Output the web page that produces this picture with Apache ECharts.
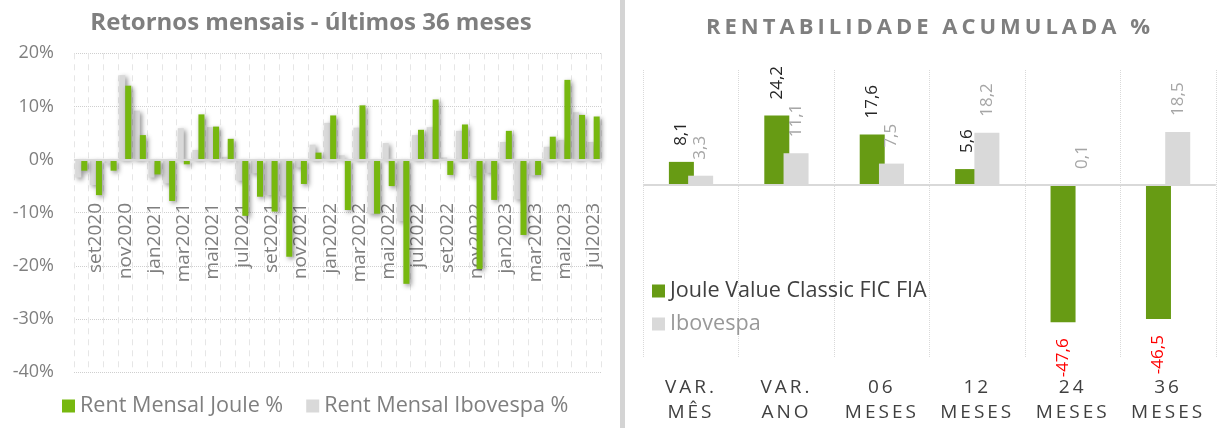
<!DOCTYPE html>
<html>
<head>
<meta charset="utf-8">
<script src="https://cdn.jsdelivr.net/npm/echarts@6/dist/echarts.min.js"></script>
<style>
html,body{margin:0;padding:0;background:#fff;}
#c{width:1225px;height:428px;}
</style>
</head>
<body>
<div id="c"></div>
<script>
// ---- Data ----
const months = ['ago2020','set2020','out2020','nov2020','dez2020','jan2021','fev2021','mar2021','abr2021','mai2021','jun2021','jul2021',
  'ago2021','set2021','out2021','nov2021','dez2021','jan2022','fev2022','mar2022','abr2022','mai2022','jun2022','jul2022',
  'ago2022','set2022','out2022','nov2022','dez2022','jan2023','fev2023','mar2023','abr2023','mai2023','jun2023','jul2023'];
const rentJoule = [-2.1,-6.7,-2.1,13.9,4.6,-2.8,-7.8,-0.9,8.5,6.2,3.9,-10.6,
  -7.0,-9.8,-18.3,-4.6,1.3,8.3,-9.5,10.2,-10.2,-5.0,-23.4,5.6,
  11.3,-2.9,6.6,-20.6,-7.6,5.4,-14.2,-2.9,4.3,15.0,8.4,8.1];
const rentIbov = [-3.4,-4.8,-0.7,15.9,9.2,-3.4,-4.5,5.9,1.8,6.1,0.5,-4.0,
  -2.6,-6.7,-6.8,-1.5,2.8,6.9,0.8,6.0,-10.2,3.1,-11.6,4.6,
  6.1,0.4,5.4,-3.1,-2.5,3.3,-7.5,-3.0,2.4,3.7,8.9,3.3];

const periods = ['VAR.\nMÊS','VAR.\nANO','06\nMESES','12\nMESES','24\nMESES','36\nMESES'];
const accJoule = [8.1,24.2,17.6,5.6,-47.6,-46.5];
const accIbov = [3.3,11.1,7.5,18.2,0.1,18.5];

const leftTitle = 'Retornos mensais - últimos 36 meses';
const rightTitle = 'RENTABILIDADE ACUMULADA %';

// letter spacing for spaced texts (right panel)
const SPACED = new Map([[rightTitle,'4px'],['VAR.','3px'],['MÊS','3px'],['ANO','3px'],['06','3px'],['12','3px'],['24','3px'],['36','3px'],['MESES','3px']]);
(function(){
  const proto = CanvasRenderingContext2D.prototype;
  const of = proto.fillText;
  proto.fillText = function(t,x,y,mw){
    if ('letterSpacing' in this) this.letterSpacing = SPACED.get(t) || '0px';
    return mw === undefined ? of.call(this,t,x,y) : of.call(this,t,x,y,mw);
  };
})();

const FONT = 'Open Sans';
const fmt = v => String(v).replace('.', ',');

const shadow = {shadowBlur:5, shadowColor:'rgba(0,0,0,0.45)', shadowOffsetX:2, shadowOffsetY:2};

const joulePts = accJoule.map(v => v >= 0 ? {value:v} : {
  value:v, label:{position:'bottom', align:'right', color:'#ff0000'}
});

const zeroLine = (w) => ({silent:true, symbol:'none', label:{show:false}, data:[{yAxis:0}],
  lineStyle:{color:'#d9d9d9', width:w, type:'solid'}});

const chart = echarts.init(document.getElementById('c'), null, {renderer:'canvas'});
chart.setOption({
  animation:false,
  textStyle:{fontFamily:FONT},
  title:[
    {text:leftTitle, left:311, top:23, padding:0, textAlign:'center', textVerticalAlign:'middle',
     textStyle:{fontFamily:FONT, fontSize:24, fontWeight:'bold', color:'#7f7f7f'}},
    {text:rightTitle, left:930, top:28, padding:0, textAlign:'center', textVerticalAlign:'middle',
     textStyle:{fontFamily:FONT, fontSize:22, fontWeight:'bold', color:'#7f7f7f'}}
  ],
  legend:[
    {left:62, top:395, padding:0, itemWidth:13, itemHeight:13, itemGap:23, icon:'rect',
     data:['Rent Mensal Joule %','Rent Mensal Ibovespa %'],
     textStyle:{fontFamily:FONT, fontSize:21.6, color:'#7f7f7f'}},
    {orient:'vertical', left:652, top:280, padding:0, itemWidth:13, itemHeight:13, itemGap:11, icon:'rect',
     data:[{name:'Joule Value Classic FIC FIA', textStyle:{color:'#404040'}},{name:'Ibovespa', textStyle:{color:'#999999'}}],
     textStyle:{fontFamily:FONT, fontSize:21.6}}
  ],
  graphic:[{type:'rect', shape:{x:620, y:0, width:5, height:428}, style:{fill:'#d4d4d4'}, silent:true}],
  grid:[
    {left:74, top:53.3, width:527, height:318.7, outerBoundsMode:'none', containLabel:false},
    {left:643.3, top:70, width:572.5, height:288, outerBoundsMode:'none', containLabel:false}
  ],
  xAxis:[
    {type:'category', gridIndex:0, data:months,
     axisLine:{show:false, onZero:false},
     axisTick:{show:false},
     axisLabel:{interval:(i)=> i % 2 === 1, rotate:90, margin:-169, fontSize:19, color:'#7f7f7f', fontFamily:FONT},
     splitLine:{show:true, interval:0, lineStyle:{color:'#e6e6e6', type:[6,5], width:1}}},
    {type:'category', gridIndex:1, data:periods,
     axisLine:{show:false, onZero:false}, axisTick:{show:false},
     axisLabel:{interval:0, margin:17, fontSize:19, lineHeight:25, color:'#404040', fontFamily:FONT},
     splitLine:{show:true, interval:0, lineStyle:{color:'#d9d9d9', type:'dotted', width:1}}}
  ],
  yAxis:[
    {type:'value', gridIndex:0, min:-40, max:20, interval:10,
     axisLine:{show:false}, axisTick:{show:false},
     axisLabel:{formatter:'{value}%', fontSize:18, color:'#7f7f7f', margin:20, fontFamily:FONT},
     splitLine:{show:true, lineStyle:{color:'#cfcfcf', type:'dotted', width:1}}},
    {type:'value', gridIndex:1, min:-60, max:40, show:false, splitLine:{show:false}}
  ],
  series:[
    {name:'Rent Mensal Ibovespa %', type:'bar', xAxisIndex:0, yAxisIndex:0, data:rentIbov,
     barWidth:6, barGap:'0%', itemStyle:Object.assign({color:'#d9d9d9'}, shadow),
     markLine:zeroLine(2)},
    {name:'Rent Mensal Joule %', type:'bar', xAxisIndex:0, yAxisIndex:0, data:rentJoule,
     barWidth:6, barGap:'0%', itemStyle:Object.assign({color:'#77b80f'}, shadow)},
    {name:'Joule Value Classic FIC FIA', type:'bar', xAxisIndex:1, yAxisIndex:1, data:joulePts,
     barWidth:25, barGap:'-23%', itemStyle:{color:'#679b14'},
     label:{show:true, position:'top', distance:16, rotate:90, align:'left', verticalAlign:'middle',
            fontSize:17, color:'#262626', fontFamily:FONT, formatter:p=>fmt(p.value)},
     markLine:zeroLine(2)},
    {name:'Ibovespa', type:'bar', xAxisIndex:1, yAxisIndex:1, data:accIbov,
     barWidth:25, barGap:'-23%', itemStyle:{color:'#d9d9d9'},
     label:{show:true, position:'top', distance:16, rotate:90, align:'left', verticalAlign:'middle',
            fontSize:17, color:'#a6a6a6', fontFamily:FONT, formatter:p=>fmt(p.value)}}
  ]
});
</script>
</body>
</html>
